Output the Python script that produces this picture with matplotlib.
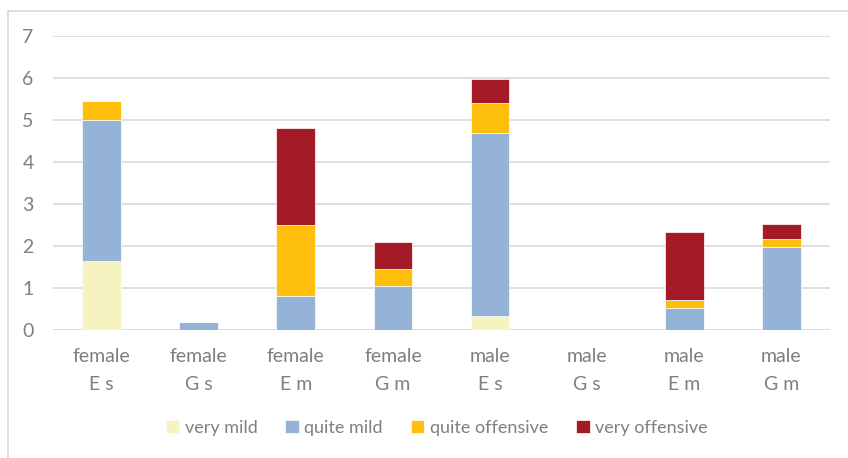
import matplotlib
matplotlib.use("Agg")
import matplotlib.pyplot as plt
from matplotlib.patches import Rectangle
import numpy as np

plt.rcParams['font.family'] = ['Lato', 'DejaVu Sans']

categories = ["female\nE s", "female\nG s", "female\nE m", "female\nG m",
              "male\nE s", "male\nG s", "male\nE m", "male\nG m"]
very_mild = [1.65, 0, 0, 0, 0.34, 0, 0, 0]
quite_mild = [3.35, 0.20, 0.82, 1.04, 4.35, 0, 0.53, 1.98]
quite_offensive = [0.44, 0, 1.68, 0.42, 0.72, 0, 0.18, 0.19]
very_offensive = [0, 0, 2.31, 0.63, 0.55, 0, 1.63, 0.34]

series = [
    ("very mild", very_mild, "#F5F3BF"),
    ("quite mild", quite_mild, "#95B3D7"),
    ("quite offensive", quite_offensive, "#FDBF0C"),
    ("very offensive", very_offensive, "#A41A27"),
]

W, H = 848, 458
fig = plt.figure(figsize=(W / 100, H / 100), dpi=100)
ax = fig.add_axes([53 / W, (H - 330) / H, (830 - 53) / W, (330 - 35.7) / H])

# outer chart frame
fig.patches.append(Rectangle((8 / W, -0.1), 1.2, (H - 11) / H + 0.1,
                             transform=fig.transFigure, fill=False,
                             edgecolor="#D9D9D9", linewidth=1.2))

x = np.arange(len(categories))
bottom = np.zeros(len(categories))
handles = []
for name, vals, color in series:
    vals = np.array(vals)
    h = ax.bar(x, vals, width=0.4, bottom=bottom, color=color,
               edgecolor="white", linewidth=0.5, label=name, zorder=3)
    handles.append(h)
    bottom += vals

ax.set_xlim(-0.5, len(categories) - 0.5)
ax.set_ylim(0, 7)
ax.set_yticks(range(0, 8))
ax.yaxis.grid(True, color="#D9D9D9", linewidth=1.2, zorder=0)
ax.set_axisbelow(True)
for s in ax.spines.values():
    s.set_visible(False)
ax.axhline(0, color="#D9D9D9", linewidth=1.2, zorder=2)

ax.set_xticks(x)
ax.set_xticklabels(categories, linespacing=1.8)
ax.tick_params(axis="both", length=0, labelsize=14, colors="#7F7F7F")
ax.tick_params(axis="y", pad=14)
ax.tick_params(axis="x", pad=13)

fig.legend(handles=handles, labels=[s[0] for s in series],
           loc="center", bbox_to_anchor=(0.515, (H - 428) / H), ncol=4,
           frameon=False, fontsize=13, labelcolor="#7F7F7F",
           handlelength=0.75, handleheight=0.75, handletextpad=0.3,
           columnspacing=1.55)

fig.savefig("out.png", dpi=100)
